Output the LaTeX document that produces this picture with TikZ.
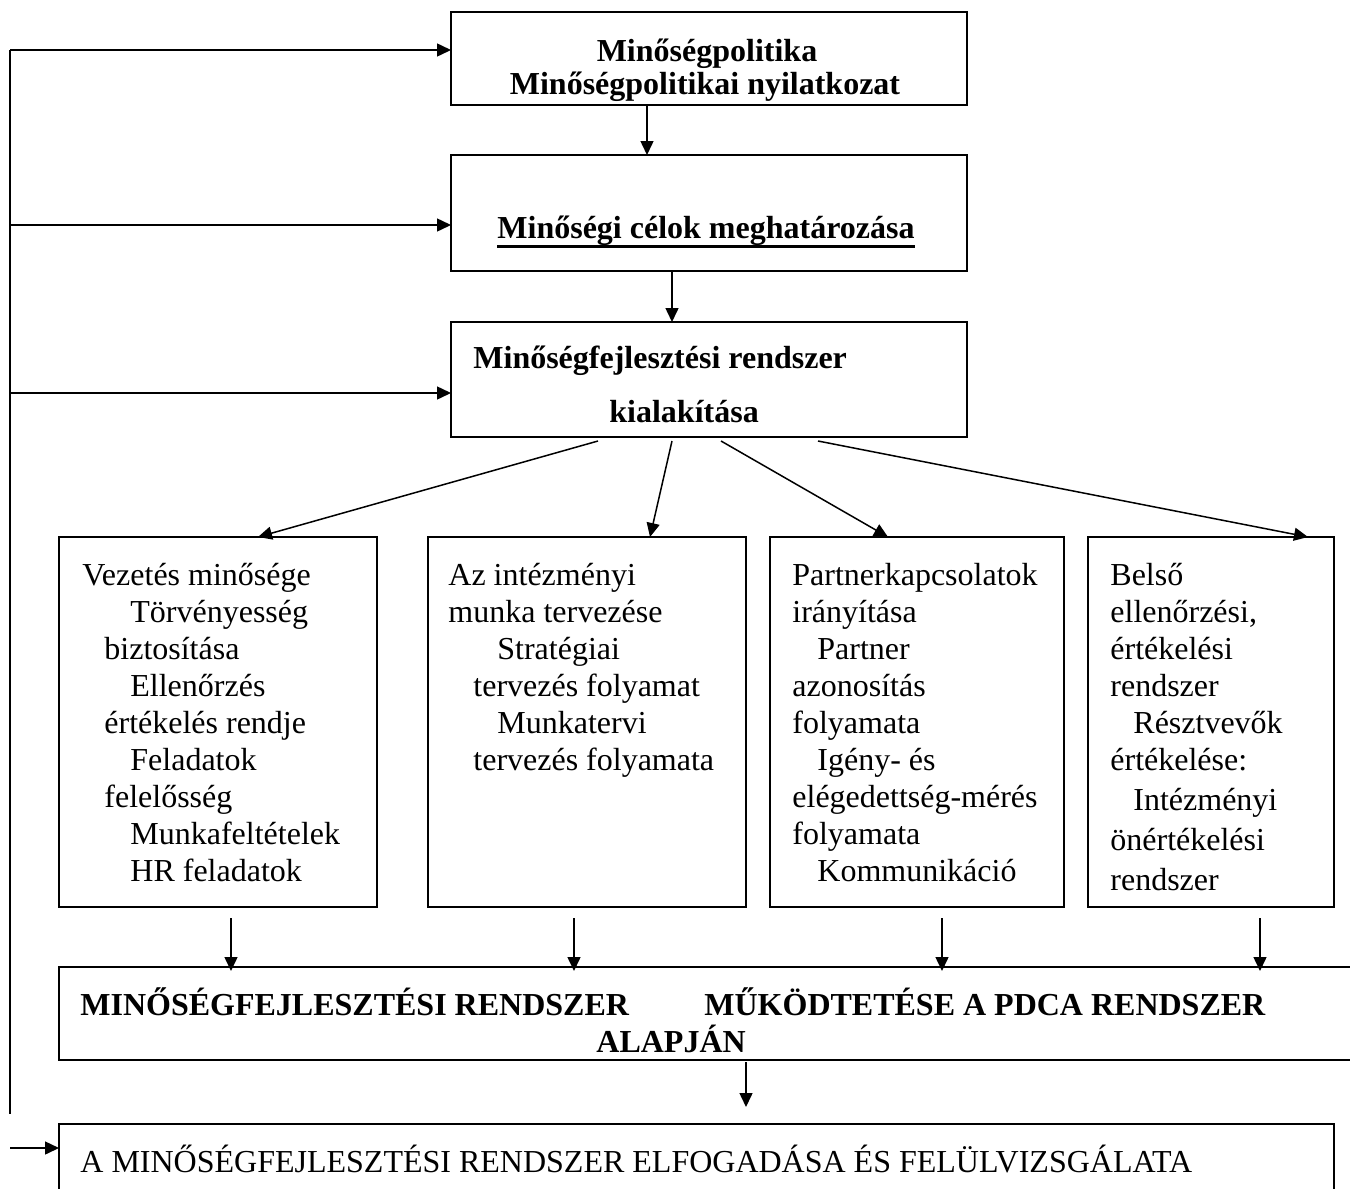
\documentclass[tikz,border=0pt]{standalone}
\usepackage{fontspec}
\setmainfont{Liberation Serif}
\usetikzlibrary{arrows.meta,calc}
\newcommand{\thickul}[1]{{\setbox0\hbox{#1}\rlap{\rule[-5pt]{\wd0}{1.4pt}}\box0}}
\begin{document}
\begin{tikzpicture}[x=0.5pt,y=-0.5pt,
  box/.style={draw,line width=0.9pt,inner sep=0pt,outer sep=0pt,anchor=north west},
  arr/.style={line width=0.75pt,-{Triangle[length=7pt,width=6.5pt]}},
  ln/.style={line width=0.75pt},
  txt/.style={inner sep=0pt,anchor=north west,align=left,font=\fontsize{16}{18.5}\selectfont},
  one/.style={inner sep=0pt,anchor=base west,font=\fontsize{16}{18.5}\selectfont},
  bone/.style={inner sep=0pt,anchor=base west,font=\fontsize{16}{18.5}\selectfont\bfseries}]
\useasboundingbox (0,0) rectangle (1350,1189);

% boxes
\node[box,minimum width=258pt,minimum height=46.5pt] (b1) at (451,12) {};
\node[box,minimum width=258pt,minimum height=58pt] (b2) at (451,155) {};
\node[box,minimum width=258pt,minimum height=57.5pt] (b3) at (451,322) {};
\node[box,minimum width=159pt,minimum height=185pt] (bA) at (59,537) {};
\node[box,minimum width=159pt,minimum height=185pt] (bB) at (428,537) {};
\node[box,minimum width=147pt,minimum height=185pt] (bC) at (770,537) {};
\node[box,minimum width=123pt,minimum height=185pt] (bD) at (1088,537) {};
\node[box,minimum width=650.5pt,minimum height=46.5pt] (bP) at (59,967) {};
\node[box,minimum width=637.5pt,minimum height=40pt] (bF) at (59,1124) {};

% texts
\node[bone,anchor=base] (t1a) at (707,61) {Minőségpolitika};
\node[bone,anchor=base] (t1b) at (705,94) {Minőségpolitikai nyilatkozat};
\node[bone,anchor=base] (t2) at (706,238) {\thickul{Minőségi célok meghatározása}};
\node[bone] (t3a) at (473,368) {Minőségfejlesztési rendszer};
\node[bone] (t3b) at (609,422) {kialakítása};

\node[txt] (tA) at (82,559) {\strut Vezetés minősége\\
\hspace*{24pt}Törvényesség\\
\hspace*{11pt}biztosítása\\
\hspace*{24pt}Ellenőrzés\\
\hspace*{11pt}értékelés rendje\\
\hspace*{24pt}Feladatok\\
\hspace*{11pt}felelősség\\
\hspace*{24pt}Munkafeltételek\\
\hspace*{24pt}HR feladatok};

\node[txt] (tB) at (448,559) {\strut Az intézményi\\
munka tervezése\\
\hspace*{24.5pt}Stratégiai\\
\hspace*{12.5pt}tervezés folyamat\\
\hspace*{24.5pt}Munkatervi\\
\hspace*{12.5pt}tervezés folyamata};

\node[txt] (tC) at (792,559) {\strut Partnerkapcsolatok\\
irányítása\\
\hspace*{12.5pt}Partner\\
azonosítás\\
folyamata\\
\hspace*{12.5pt}Igény- és\\
elégedettség-mérés\\
folyamata\\
\hspace*{12.5pt}Kommunikáció};

\node[txt] (tD) at (1110,559) {\strut Belső\\
ellenőrzési,\\
értékelési\\
rendszer\\
\hspace*{11.5pt}Résztvevők\\
értékelése:\\[1.5pt]
\hspace*{11.5pt}Intézményi\\[1.5pt]
önértékelési\\[1.5pt]
rendszer};

\node[bone] (tPa) at (80,1015) {MINŐSÉGFEJLESZTÉSI RENDSZER};
\node[bone] (tPb) at (704,1015) {MŰKÖDTETÉSE A PDCA RENDSZER};
\node[bone] (tPc) at (596,1052) {ALAPJÁN};
\node[one] (tF) at (80,1172) {A MINŐSÉGFEJLESZTÉSI RENDSZER ELFOGADÁSA ÉS FELÜLVIZSGÁLATA};

% feedback line on the left
\coordinate (Ltop) at (10,50);
\coordinate (L2) at (10,225);
\coordinate (L3) at (10,393);
\coordinate (Lbot) at (10,1114);
\coordinate (Lf) at (10,1148);
\draw[ln] (Ltop) -- (Lbot);
\draw[arr] (Ltop) -- (Ltop -| b1.west);
\draw[arr] (L2) -- (L2 -| b2.west);
\draw[arr] (L3) -- (L3 -| b3.west);
\draw[arr] (Lf) -- (Lf -| bF.west);

% vertical flow
\draw[arr] ($(b1.south west)+(196,0)$) -- ($(b2.north west)+(196,0)$);
\draw[arr] ($(b2.south west)+(221,0)$) -- ($(b3.north west)+(221,0)$);

% diagonals
\draw[arr] ($(b3.south west)+(147,4)$) -- ($(bA.north west)+(199,0)$);
\draw[arr] ($(b3.south west)+(221,4)$) -- ($(bB.north west)+(222,0)$);
\draw[arr] ($(b3.south west)+(270,4)$) -- ($(bC.north west)+(118,0)$);
\draw[arr] ($(b3.south west)+(367,4)$) -- ($(bD.north west)+(220,0)$);

% down into PDCA
\draw[arr] ($(bA.south west)+(172,11)$) -- ($(bP.north west)+(172,4)$);
\draw[arr] ($(bB.south west)+(146,11)$) -- ($(bP.north west)+(515,4)$);
\draw[arr] ($(bC.south west)+(172,11)$) -- ($(bP.north west)+(883,4)$);
\draw[arr] ($(bD.south west)+(172,11)$) -- ($(bP.north west)+(1201,4)$);

% PDCA to final
\draw[arr] ($(bP.south west)+(687,2)$) -- ($(bF.north west)+(687,-17)$);
\end{tikzpicture}
\end{document}
